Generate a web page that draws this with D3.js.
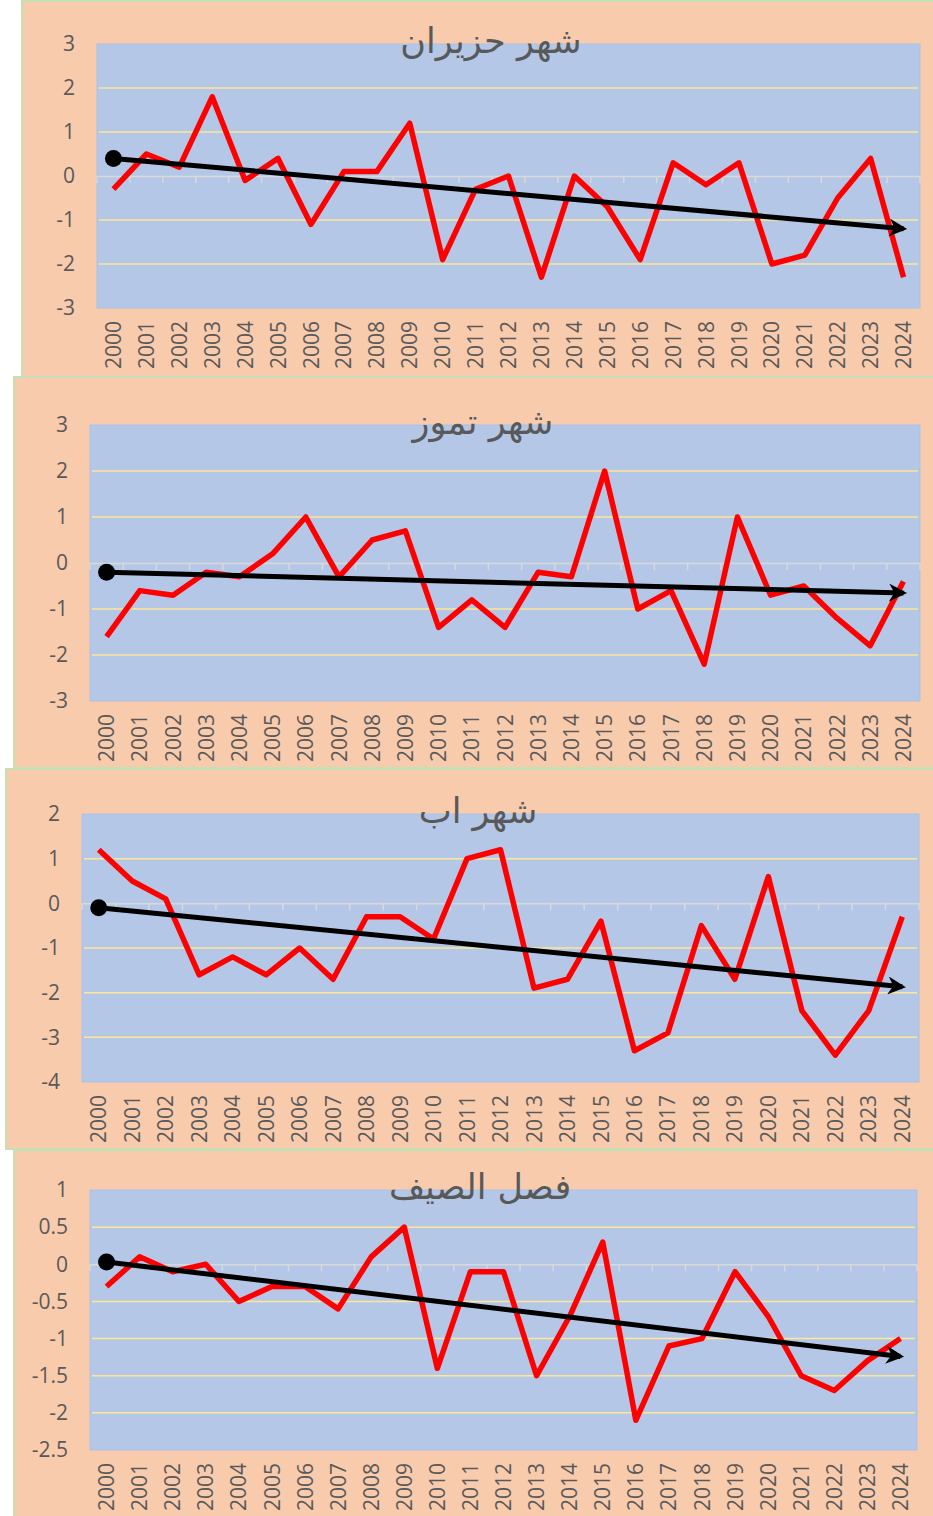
<!DOCTYPE html>
<html>
<head>
<meta charset="utf-8">
<script src="https://cdn.jsdelivr.net/npm/d3@7"></script>
<style>
  body { margin: 0; background: #ffffff; }
  svg { display: block; }
  text { font-family: "Open Sans", "DejaVu Sans", sans-serif; fill: #595959; }
  text.title { font-family: "DejaVu Sans", sans-serif; }
</style>
</head>
<body>
<div id="chart"></div>
<script>
// years on the x axis
const years = d3.range(2000, 2025).map(String);

// anomaly values
const juneValues = [-0.3, 0.5, 0.2, 1.8, -0.1, 0.4, -1.1, 0.1, 0.1, 1.2, -1.9, -0.3, 0.0, -2.3, 0.0, -0.7, -1.9, 0.3, -0.2, 0.3, -2.0, -1.8, -0.5, 0.4, -2.3];
const julyValues = [-1.6, -0.6, -0.7, -0.2, -0.3, 0.2, 1.0, -0.3, 0.5, 0.7, -1.4, -0.8, -1.4, -0.2, -0.3, 2.0, -1.0, -0.6, -2.2, 1.0, -0.7, -0.5, -1.2, -1.8, -0.4];
const augustValues = [1.2, 0.5, 0.1, -1.6, -1.2, -1.6, -1.0, -1.7, -0.3, -0.3, -0.8, 1.0, 1.2, -1.9, -1.7, -0.4, -3.3, -2.9, -0.5, -1.7, 0.6, -2.4, -3.4, -2.4, -0.3];
const summerValues = [-0.3, 0.1, -0.1, 0.0, -0.5, -0.3, -0.3, -0.6, 0.1, 0.5, -1.4, -0.1, -0.1, -1.5, -0.7, 0.3, -2.1, -1.1, -1.0, -0.1, -0.7, -1.5, -1.7, -1.3, -1.0];

// trend arrow: value at first year, value at last year
const juneTrend = [0.4, -1.2];
const julyTrend = [-0.2, -0.65];
const augustTrend = [-0.1, -1.87];
const summerTrend = [0.03, -1.24];

const titles = ["شهر حزيران", "شهر تموز", "شهر اب", "فصل الصيف"];
const yDomains = [[-3, 3], [-3, 3], [-4, 2], [-2.5, 1]];
const yTicks = [d3.range(-3, 3.01, 1), d3.range(-3, 3.01, 1), d3.range(-4, 2.01, 1), d3.range(-2.5, 1.01, 0.5)];

// panel geometry (page pixels)
const panels = [
  { box: [22, 1, 377], plot: [97, 920, 44, 308], titleX: 491 },
  { box: [14, 377, 768], plot: [90, 920, 425, 701], titleX: 483 },
  { box: [6, 769, 1149], plot: [82, 919, 814, 1082], titleX: 478 },
  { box: [14, 1150, 1530], plot: [90, 917, 1190, 1450], titleX: 480 }
];
const series = [juneValues, julyValues, augustValues, summerValues];
const trends = [juneTrend, julyTrend, augustTrend, summerTrend];

const W = 933, H = 1516;
const svg = d3.select("#chart").append("svg")
  .attr("width", W)
  .attr("height", H);

svg.append("defs").append("marker")
  .attr("id", "arrow")
  .attr("viewBox", "0 0 10 10")
  .attr("refX", 8)
  .attr("refY", 5)
  .attr("markerWidth", 3.6)
  .attr("markerHeight", 3.6)
  .attr("markerUnits", "strokeWidth")
  .attr("orient", "auto")
  .append("path")
  .attr("d", "M0,0 L10,5 L0,10 L3,5 Z")
  .style("fill", "#000");

panels.forEach((p, i) => drawPanel(p, i));

function drawPanel(p, i) {
  const [bx, by, bBottom] = p.box;
  const [px0, px1, py0, py1] = p.plot;
  const g = svg.append("g").attr("class", "panel-" + i);

  // panel background
  g.append("rect")
    .attr("x", bx)
    .attr("y", by)
    .attr("width", W + 10 - bx)
    .attr("height", bBottom - by)
    .style("fill", "#f8cbad")
    .style("stroke", "#c5e0b4")
    .style("stroke-width", 2);

  // plot area
  g.append("rect")
    .attr("x", px0)
    .attr("y", py0)
    .attr("width", px1 - px0)
    .attr("height", py1 - py0)
    .style("fill", "#b4c7e7")
    .style("stroke", "#abc2e6")
    .style("stroke-width", 1);

  const x = d3.scaleBand().domain(years).range([px0, px1]);
  const y = d3.scaleLinear().domain(yDomains[i]).range([py1, py0]);
  const cx = d => x(d) + x.bandwidth() / 2;

  // gridlines
  g.append("g").selectAll("line")
    .data(yTicks[i].filter(t => t > yDomains[i][0] + 1e-6 && t < yDomains[i][1] - 1e-6 && Math.abs(t) > 1e-6))
    .enter().append("line")
    .attr("x1", px0 + 2)
    .attr("x2", px1 - 2)
    .attr("y1", d => y(d))
    .attr("y2", d => y(d))
    .style("stroke", "#ffe699")
    .style("stroke-width", 1.5);

  // zero axis with category ticks
  const axis = g.append("g")
    .attr("transform", `translate(0, ${y(0)})`)
    .call(d3.axisBottom(x).tickSize(0).tickFormat(""));
  axis.select("path.domain").style("stroke", "#d9d9d9").style("stroke-width", 1.5);
  axis.selectAll(".tick").remove();
  axis.selectAll("line.cat")
    .data(years.concat(["end"]))
    .enter().append("line")
    .attr("class", "cat")
    .attr("x1", (d, k) => px0 + k * x.step())
    .attr("x2", (d, k) => px0 + k * x.step())
    .attr("y1", 0)
    .attr("y2", 7)
    .style("stroke", "#d9d9d9")
    .style("stroke-width", 1.5);

  // y labels
  g.append("g").selectAll("text")
    .data(yTicks[i])
    .enter().append("text")
    .attr("x", px0 - 22)
    .attr("y", d => y(d))
    .attr("dy", "0.35em")
    .attr("text-anchor", "end")
    .style("font-size", "21px")
    .text(d => String(+d.toFixed(1)));

  // x labels, rotated
  g.append("g").selectAll("text")
    .data(years)
    .enter().append("text")
    .attr("transform", d => `translate(${cx(d)}, ${py1 + 13}) rotate(-90)`)
    .attr("dy", "0.36em")
    .attr("text-anchor", "end")
    .style("font-size", "21px")
    .text(d => d);

  // data line
  g.append("path")
    .datum(series[i])
    .attr("d", d3.line().x((d, k) => cx(years[k])).y(d => y(d)))
    .style("fill", "none")
    .style("stroke", "#ff0000")
    .style("stroke-width", 5.5)
    .style("stroke-linejoin", "round");

  // trend arrow
  const tr = trends[i];
  const ends = [years[0], years[years.length - 1]];
  g.append("line")
    .attr("x1", cx(ends[0]))
    .attr("y1", y(tr[0]))
    .attr("x2", cx(ends[1]))
    .attr("y2", y(tr[1]))
    .attr("marker-end", "url(#arrow)")
    .style("stroke", "#000")
    .style("stroke-width", 5);
  g.append("circle")
    .attr("cx", cx(ends[0]))
    .attr("cy", y(tr[0]))
    .attr("r", 8.5)
    .style("fill", "#000");

  // title
  g.append("text")
    .attr("class", "title")
    .attr("x", p.titleX)
    .attr("y", py0 + 9)
    .attr("text-anchor", "middle")
    .style("font-size", "35px")
    .text(titles[i]);
}
</script>
</body>
</html>
